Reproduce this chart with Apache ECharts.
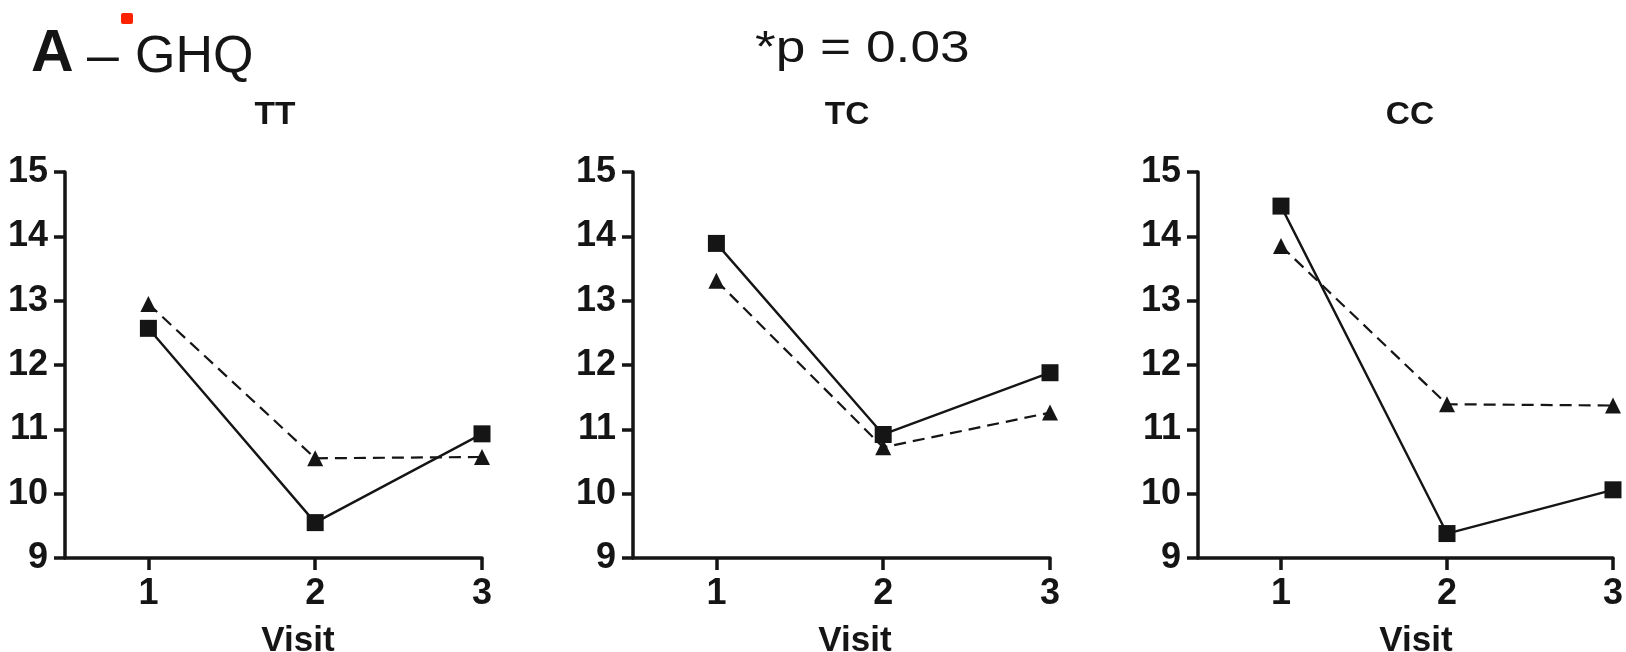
<!DOCTYPE html>
<html>
<head>
<meta charset="utf-8">
<script src="https://cdn.jsdelivr.net/npm/echarts@6/dist/echarts.min.js"></script>
<style>
html,body{margin:0;padding:0;background:#fff;}
#c{width:1626px;height:652px;}
</style>
</head>
<body>
<div id="c"></div>
<script>
// ---- data ----
const visits = [1, 2, 3];
const panelNames = ['TT', 'TC', 'CC'];
const yTicks = [9, 10, 11, 12, 13, 14, 15];
const ttSolid  = [12.57, 9.55, 10.93];
const ttDashed = [12.95, 10.55, 10.57];
const tcSolid  = [13.89, 10.92, 11.88];
const tcDashed = [13.31, 10.72, 11.26];
const ccSolid  = [14.47, 9.38, 10.06];
const ccDashed = [13.85, 11.39, 11.37];
const solidSets = [ttSolid, tcSolid, ccSolid];
const dashedSets = [ttDashed, tcDashed, ccDashed];

// ---- layout ----
const FONT = '"Liberation Sans", Arial, Helvetica, sans-serif';
const INK = '#151515';
const grids = [
  {left: 65, top: 172, width: 417, height: 386},
  {left: 633, top: 172, width: 417, height: 386},
  {left: 1198, top: 172, width: 416, height: 386}
];
const titleX = [275, 847, 1410];
const visitX = [298, 855, 1416];

const xAxes = [], yAxes = [], series = [];
grids.forEach((g, i) => {
  xAxes.push({
    gridIndex: i, type: 'value', min: 0.5, max: 3,
    axisLine: {show: true, lineStyle: {color: INK, width: 3.5}},
    axisTick: {show: true, length: 12, customValues: visits, lineStyle: {color: INK, width: 3.5}},
    axisLabel: {show: true, customValues: visits, margin: 18,
      fontFamily: FONT, fontWeight: 'bold', fontSize: 36, color: INK},
    splitLine: {show: false}
  });
  yAxes.push({
    gridIndex: i, type: 'value', min: yTicks[0], max: yTicks[yTicks.length - 1], interval: 1,
    axisLine: {show: true, lineStyle: {color: INK, width: 3.5}},
    axisTick: {show: true, length: 11, lineStyle: {color: INK, width: 3.5}},
    axisLabel: {show: true, margin: 17,
      fontFamily: FONT, fontWeight: 'bold', fontSize: 36, color: INK},
    splitLine: {show: false}
  });
  series.push({
    name: panelNames[i] + ' solid', type: 'line', xAxisIndex: i, yAxisIndex: i,
    data: visits.map((v, k) => [v, solidSets[i][k]]),
    symbol: 'rect', symbolSize: 17,
    lineStyle: {color: INK, width: 2.4, type: 'solid'},
    itemStyle: {color: INK},
    z: 3
  });
  series.push({
    name: panelNames[i] + ' dashed', type: 'line', xAxisIndex: i, yAxisIndex: i,
    data: visits.map((v, k) => [v, dashedSets[i][k]]),
    symbol: 'triangle', symbolSize: [16, 16],
    lineStyle: {color: INK, width: 2.2, type: [12, 7]},
    itemStyle: {color: INK},
    z: 2
  });
});

const graphics = [
  {type: 'text', x: 31, y: 55, style: {text: 'A', font: 'bold 59px ' + FONT, fill: INK, align: 'left', verticalAlign: 'middle'}},
  {type: 'text', x: 87, y: 58, scaleX: 1.1, style: {text: '\u2013', font: '52px ' + FONT, fill: INK, align: 'left', verticalAlign: 'middle'}},
  {type: 'text', x: 135, y: 58, style: {text: 'GHQ', font: '52px ' + FONT, fill: INK, align: 'left', verticalAlign: 'middle'}},
  {type: 'text', x: 755, y: 50, scaleX: 1.21, style: {text: '*p = 0.03', font: '44px ' + FONT, fill: INK, align: 'left', verticalAlign: 'middle'}},
  {type: 'rect', shape: {x: 121, y: 13, width: 12, height: 11, r: 2}, style: {fill: '#ff2200'}}
];
panelNames.forEach((n, i) => {
  graphics.push({type: 'text', x: titleX[i], y: 115, scaleX: 1.08, style: {text: n, font: 'bold 31px ' + FONT, fill: INK, align: 'center', verticalAlign: 'middle'}});
  graphics.push({type: 'text', x: visitX[i], y: 641, style: {text: 'Visit', font: 'bold 35px ' + FONT, fill: INK, align: 'center', verticalAlign: 'middle'}});
});

const chart = echarts.init(document.getElementById('c'), null, {renderer: 'canvas'});
chart.setOption({
  animation: false,
  backgroundColor: '#fff',
  grid: grids.map(g => Object.assign({containLabel: false}, g)),
  xAxis: xAxes,
  yAxis: yAxes,
  series: series,
  graphic: graphics
});
</script>
</body>
</html>
